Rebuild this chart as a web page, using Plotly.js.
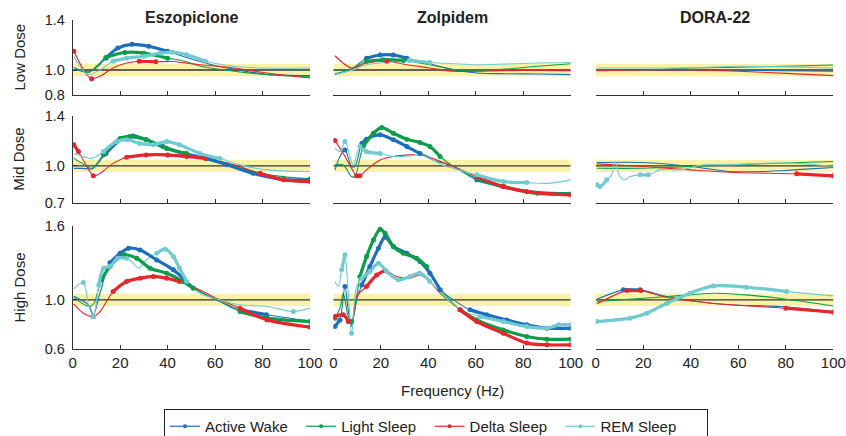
<!DOCTYPE html>
<html><head><meta charset="utf-8">
<script src="https://cdn.plot.ly/plotly-3.0.1.min.js"></script>
<style>html,body{margin:0;padding:0;background:#fff}#chart{width:846px;height:436px}</style>
</head><body><div id="chart"></div>
<script>
const drugs = ['Eszopiclone', 'Zolpidem', 'DORA-22'];
const doses = ['Low Dose', 'Mid Dose', 'High Dose'];
const states = ['Active Wake', 'Light Sleep', 'Delta Sleep', 'REM Sleep'];
const xTicks = [0, 20, 40, 60, 80, 100];
const yTicksLow = [0.8, 1.0, 1.4];
const yTicksMid = [0.7, 1.0, 1.4];
const yTicksHigh = [0.6, 1.0, 1.6];
const yRangeLow = [0.8, 1.4];
const yRangeMid = [0.7, 1.4];
const yRangeHigh = [0.6, 1.6];
const bandLow = 0.95, bandHigh = 1.05, baseline = 1.0;

// ---- Eszopiclone, Low dose: [frequency Hz, normalized power]
const esLowWake = [[0.5,1.02],[3,1.0],[6.5,0.985],[10,1.02],[14,1.095],[19,1.175],[25,1.205],[32,1.19],[40,1.15],[48,1.10],[59,1.04],[70,1.0],[82,0.965],[100,0.955]];
const esLowWakeSig = [[14,42]];
const esLowLight = [[0.5,1.0],[3,0.995],[6.5,0.978],[10,1.03],[14,1.10],[22,1.14],[30,1.135],[40,1.095],[47,1.07],[54,1.03],[68,0.99],[82,0.962],[100,0.945]];
const esLowLightSig = [[14,46]];
const esLowDelta = [[0.5,1.15],[3,1.055],[6,0.96],[8,0.93],[11.5,0.95],[17,1.016],[22.7,1.056],[28,1.07],[35,1.066],[42,1.068],[48,1.055],[54,1.042],[68,1.016],[82,0.976],[100,0.936]];
const esLowDeltaSig = [[0.5,0.5],[8,8],[27,36]];
const esLowRem = [[0.5,1.11],[3,1.03],[6.5,0.963],[11.5,1.0],[17,1.07],[22.7,1.095],[30,1.11],[37,1.135],[42,1.143],[48,1.122],[56,1.07],[68,1.03],[80,1.016],[100,1.016]];
const esLowRemSig = [[17,60]];

// ---- Eszopiclone, Mid dose
const esMidWake = [[0.5,0.98],[4,0.98],[8.5,0.98],[14,1.10],[21,1.22],[25.5,1.24],[31,1.21],[38,1.155],[46.5,1.10],[56.5,1.06],[65,1.01],[76,0.94],[89,0.89],[100,0.89]];
const esMidWakeSig = [[14,100]];
const esMidLight = [[0.5,1.06],[4,1.02],[8,0.98],[13,1.09],[20,1.22],[24,1.235],[31,1.21],[39.6,1.14],[48,1.10],[59,1.035],[68,0.995],[82,0.93],[100,0.895]];
const esMidLightSig = [[13,55],[85,100]];
const esMidDelta = [[0.5,1.17],[2.4,1.115],[6,0.995],[8.7,0.92],[11.5,0.94],[17,1.02],[22.7,1.07],[31,1.088],[40,1.088],[48,1.075],[56,1.06],[68,1.008],[79,0.94],[89,0.888],[100,0.875]];
const esMidDeltaSig = [[0.5,2.4],[8.7,8.7],[22,56],[79,100]];
const esMidRem = [[0.5,1.10],[4.5,1.075],[8,1.06],[13,1.115],[18.5,1.195],[22.7,1.21],[28.4,1.18],[34,1.17],[39.6,1.195],[45,1.17],[53.6,1.10],[62,1.06],[70.5,1.008],[82,0.968],[100,0.955]];
const esMidRemSig = [[13,62]];

// ---- Eszopiclone, High dose
const esHighWake = [[0.5,1.03],[6.6,0.96],[8.7,0.88],[11.5,1.054],[15.7,1.30],[20,1.377],[23.5,1.418],[28.4,1.404],[35.4,1.323],[42.4,1.243],[46.6,1.175],[53.6,1.067],[62,0.987],[70.5,0.92],[81.7,0.88],[100,0.83]];
const esHighWakeSig = [[15.7,46.6],[70.5,81.7]];
const esHighLight = [[0.5,1.02],[7,0.946],[9,0.973],[12,1.16],[15.7,1.27],[20,1.35],[22,1.364],[27,1.337],[32.6,1.256],[39.6,1.216],[46.6,1.148],[50.8,1.094],[60.7,1.0],[70.5,0.905],[82,0.852],[100,0.825]];
const esHighLightSig = [[12,50.8],[70.5,100]];
const esHighDelta = [[0.5,0.965],[4.5,0.892],[8.7,0.865],[11.5,0.905],[17,1.067],[22.7,1.148],[28.4,1.175],[34,1.19],[39.6,1.175],[45,1.148],[53.6,1.08],[62,1.0],[70.5,0.933],[82,0.838],[100,0.78]];
const esHighDeltaSig = [[8.7,8.7],[17,45],[70.5,100]];
const esHighRem = [[0.5,1.09],[4.5,1.14],[6.6,0.96],[8.7,0.865],[11,1.12],[13,1.256],[15.7,1.27],[19,1.337],[22.7,1.337],[25.6,1.296],[27.7,1.256],[31,1.323],[35.4,1.377],[39,1.41],[42.4,1.35],[45,1.256],[48,1.148],[53.6,1.054],[62,1.0],[70.5,0.96],[82,0.946],[93,0.906],[100,0.933]];
const esHighRemSig = [[4.5,4.5],[8.7,8.7],[11,22.7],[35.4,48],[93,93]];

// ---- Zolpidem, Low dose
const zoLowWake = [[0.7,0.97],[7.7,1.008],[14,1.095],[19.7,1.12],[25.3,1.12],[31,1.095],[39,1.056],[50.6,1.003],[60.4,0.976],[73,0.97],[86,0.968],[100,0.963]];
const zoLowWakeSig = [[14,31]];
const zoLowLight = [[0.7,1.003],[7.7,1.008],[14,1.07],[21,1.082],[29.5,1.077],[40.7,1.042],[50.6,1.003],[60.4,0.995],[73,1.008],[86,1.03],[100,1.05]];
const zoLowLightSig = [[14,29.5]];
const zoLowDelta = [[0.7,1.114],[7.7,1.016],[14,1.056],[22.5,1.07],[31,1.042],[40.7,1.016],[50.6,0.99],[60.4,0.99],[71.6,0.995],[85.7,0.997],[100,0.995]];
const zoLowDeltaSig = [[22.5,22.5]];
const zoLowRem = [[0.7,0.963],[7.7,0.997],[14,1.042],[22.5,1.06],[32,1.077],[40.7,1.06],[50.6,1.05],[60.4,1.042],[73,1.048],[86,1.056],[100,1.06]];
const zoLowRemSig = [[32,40.7]];

// ---- Zolpidem, Mid dose
const zoMidWake = [[0.7,0.968],[2.8,1.075],[4.9,1.128],[7.7,0.995],[9.1,0.995],[12,1.18],[14,1.214],[19.7,1.249],[25.3,1.209],[31,1.155],[36.5,1.10],[42,1.048],[50.6,0.995],[60.4,0.888],[71.6,0.834],[86,0.794],[100,0.786]];
const zoMidWakeSig = [[4.9,4.9],[12,36.5],[60.4,71.6]];
const zoMidLight = [[0.7,1.008],[4.2,1.008],[7.7,0.914],[9.1,0.914],[12.6,1.155],[16.9,1.262],[20.4,1.307],[25.3,1.262],[31,1.214],[36.5,1.187],[40.7,1.155],[45,1.075],[50.6,0.995],[60.4,0.90],[71.6,0.834],[86,0.78],[100,0.775]];
const zoMidLightSig = [[12.6,45],[60.4,100]];
const zoMidDelta = [[0.7,1.203],[4.2,1.10],[7.7,0.98],[9.8,0.92],[11.2,0.92],[14,0.968],[19.7,1.048],[25.3,1.075],[32.3,1.088],[37.9,1.088],[42,1.06],[50.6,0.995],[60.4,0.914],[71.6,0.834],[81.5,0.794],[100,0.767]];
const zoMidDeltaSig = [[0.7,0.7],[9.8,11.2],[60.4,100]];
const zoMidRem = [[0.7,1.142],[2.8,1.115],[4.9,1.195],[7,1.075],[8.4,1.003],[11.2,1.155],[14,1.115],[19.7,1.10],[25.3,1.075],[32,1.08],[37.9,1.096],[42,1.048],[46,1.008],[50.6,0.98],[60.4,0.928],[71.6,0.874],[81.5,0.866],[90,0.86],[100,0.888]];
const zoMidRemSig = [[4.9,4.9],[11.2,19.7],[60.4,81.5]];

// ---- Zolpidem, High dose
const zoHighWake = [[0.7,0.784],[2.8,0.838],[4.9,1.108],[6.3,0.919],[7.7,0.784],[9.8,1.0],[12,1.12],[15.4,1.27],[19,1.418],[21.8,1.507],[25.3,1.431],[31,1.377],[36.5,1.31],[40.7,1.216],[45,1.081],[50.6,1.0],[57.6,0.919],[64.6,0.879],[73,0.838],[81.5,0.798],[90,0.771],[100,0.771]];
const zoHighWakeSig = [[0.7,2.8],[4.9,4.9],[12,45],[57.6,100]];
const zoHighLight = [[0.7,0.852],[2.8,0.933],[4.2,1.054],[6.3,0.865],[7.7,0.825],[9.1,0.919],[11.2,1.189],[14,1.35],[16.9,1.485],[19.7,1.571],[21.8,1.539],[25.3,1.431],[29.5,1.377],[35.1,1.337],[39.3,1.27],[43.5,1.135],[47.8,1.027],[53.4,0.919],[60.4,0.838],[71.6,0.757],[81.5,0.704],[90,0.682],[100,0.682]];
const zoHighLightSig = [[0.7,0.7],[7.7,7.7],[11.2,39.3],[53.4,100]];
const zoHighDelta = [[0.7,0.865],[4.2,0.879],[6.3,0.825],[7.7,0.798],[9.8,1.027],[14,1.108],[18.3,1.202],[21.8,1.237],[26.7,1.189],[32.3,1.175],[36.5,1.202],[40.7,1.148],[45,1.054],[53.4,0.919],[60.4,0.825],[71.6,0.73],[81.5,0.65],[90,0.636],[100,0.636]];
const zoHighDeltaSig = [[0.7,6.3],[14,21.8],[53.4,100]];
const zoHighRem = [[0.7,1.148],[2.1,1.108],[3.5,1.243],[4.9,1.364],[6.3,1.054],[7.7,0.73],[9.8,1.108],[12,1.175],[15.4,1.229],[19,1.296],[22.5,1.229],[27.4,1.162],[32.3,1.189],[36.5,1.216],[40.7,1.148],[46.3,1.04],[53.4,0.919],[61.8,0.865],[71.6,0.825],[81.5,0.784],[90,0.771],[95,0.798],[100,0.798]];
const zoHighRemSig = [[3.5,4.9],[7.7,7.7],[12,40.7],[61.8,100]];

// ---- DORA-22, Low dose
const doLowWake = [[0.5,0.995],[20,1.0],[40,1.003],[60,0.998],[80,0.994],[100,0.99]];
const doLowLight = [[0.5,0.997],[20,1.0],[40,1.016],[60,1.022],[80,1.03],[100,1.04]];
const doLowDelta = [[0.5,0.997],[20,1.0],[40,1.0],[60,0.99],[80,0.973],[100,0.955]];
const doLowRem = [[0.5,1.016],[20,1.016],[40,1.018],[60,1.03],[80,1.025],[100,1.016]];

// ---- DORA-22, Mid dose
const doMidWake = [[0.5,1.027],[20,1.027],[40,0.995],[56.5,0.955],[70.5,0.955],[85,0.97],[100,0.987]];
const doMidLight = [[0.5,0.981],[20,0.981],[40,0.995],[56,1.008],[77,1.021],[100,1.035]];
const doMidDelta = [[0.5,1.016],[20,0.995],[40,0.968],[59,0.947],[84.6,0.936],[100,0.92]];
const doMidDeltaSig = [[84.6,100]];
const doMidRem = [[0.5,0.848],[1.8,0.834],[4.6,0.888],[6.7,0.928],[8.1,1.035],[10.2,0.914],[12.3,0.888],[14.4,0.914],[18.7,0.928],[22.2,0.928],[27,0.968],[35.5,0.968],[45.3,1.008],[56,1.008],[70,1.021],[84,1.021],[100,0.995]];
const doMidRemSig = [[0.5,4.6],[18.7,22.2]];

// ---- DORA-22, High dose
const doHighWake = [[0.5,1.005],[11.6,1.081],[18.7,1.081],[30,1.027],[42.5,0.987],[56.5,0.96],[77.6,0.946],[100,0.906]];
const doHighWakeSig = [[11.6,18.7]];
const doHighLight = [[0.5,0.987],[20,1.013],[34,1.032],[49.5,1.054],[63,1.04],[77,1.013],[100,0.951]];
const doHighDelta = [[0.5,0.968],[13,1.075],[19,1.075],[30,1.019],[42.5,0.987],[56.5,0.96],[80,0.933],[100,0.9]];
const doHighDeltaSig = [[13,19],[80,100]];
const doHighRem = [[0.5,0.825],[14.4,0.852],[21.5,0.892],[30,0.973],[39.7,1.054],[49.5,1.113],[63.5,1.102],[80.4,1.067],[100,1.032]];
const doHighRemSig = [[0.5,80.4]];

// ---- assemble panels [row][col] -> per state [points, significant ranges]
const panels = [
  [
    [[esLowWake,esLowWakeSig],[esLowLight,esLowLightSig],[esLowDelta,esLowDeltaSig],[esLowRem,esLowRemSig]],
    [[zoLowWake,zoLowWakeSig],[zoLowLight,zoLowLightSig],[zoLowDelta,zoLowDeltaSig],[zoLowRem,zoLowRemSig]],
    [[doLowWake,[]],[doLowLight,[]],[doLowDelta,[]],[doLowRem,[]]]
  ],
  [
    [[esMidWake,esMidWakeSig],[esMidLight,esMidLightSig],[esMidDelta,esMidDeltaSig],[esMidRem,esMidRemSig]],
    [[zoMidWake,zoMidWakeSig],[zoMidLight,zoMidLightSig],[zoMidDelta,zoMidDeltaSig],[zoMidRem,zoMidRemSig]],
    [[doMidWake,[]],[doMidLight,[]],[doMidDelta,doMidDeltaSig],[doMidRem,doMidRemSig]]
  ],
  [
    [[esHighWake,esHighWakeSig],[esHighLight,esHighLightSig],[esHighDelta,esHighDeltaSig],[esHighRem,esHighRemSig]],
    [[zoHighWake,zoHighWakeSig],[zoHighLight,zoHighLightSig],[zoHighDelta,zoHighDeltaSig],[zoHighRem,zoHighRemSig]],
    [[doHighWake,doHighWakeSig],[doHighLight,[]],[doHighDelta,doHighDeltaSig],[doHighRem,doHighRemSig]]
  ]
];
const yTicksByDose = [yTicksLow, yTicksMid, yTicksHigh];
const yRangeByDose = [yRangeLow, yRangeMid, yRangeHigh];

// ---- styling (not data)
const colors = ['#1b6fbd', '#0c9d4b', '#e8252b', '#6fcbcf'];
const FONT = '"Liberation Sans", Arial, Helvetica, sans-serif';
const W = 846, H = 436;
const colPx = [[72.7, 310], [333.3, 570.7], [595.7, 833.3]];
const rowPx = [[20, 95], [116, 203.3], [225.7, 349.3]];
const legendPad = '\u00a0\u00a0';
const legendEndPad = '\u00a0\u00a0\u00a0\u00a0\u00a0\u00a0';

const traces = [];
const layout = {
  width: W, height: H, margin: {l: 0, r: 0, t: 0, b: 0, autoexpand: false},
  paper_bgcolor: '#fff', plot_bgcolor: 'rgba(0,0,0,0)',
  font: {family: FONT, size: 15, color: '#222'},
  showlegend: true,
  legend: {
    orientation: 'h', x: 164 / W, xanchor: 'left', y: 1 - 409 / H, yanchor: 'top',
    bordercolor: '#222', borderwidth: 1, bgcolor: '#fff',
    font: {family: FONT, size: 15, color: '#222'},
    itemwidth: 30, tracegroupgap: 0
  },
  shapes: [], annotations: []
};

for (let r = 0; r < 3; r++) {
  for (let c = 0; c < 3; c++) {
    const idx = r * 3 + c + 1;
    const xs = idx === 1 ? 'x' : 'x' + idx;
    const ys = idx === 1 ? 'y' : 'y' + idx;
    const xk = idx === 1 ? 'xaxis' : 'xaxis' + idx;
    const yk = idx === 1 ? 'yaxis' : 'yaxis' + idx;
    layout[xk] = {
      domain: [colPx[c][0] / W, colPx[c][1] / W], anchor: ys, range: [0, 100],
      showline: true, linecolor: '#333', linewidth: 1, ticks: 'inside', ticklen: 4,
      tickcolor: '#333', tickvals: xTicks, showticklabels: r === 2, ticklabelstandoff: 0,
      showgrid: false, zeroline: false, fixedrange: true,
      tickfont: {family: FONT, size: 15, color: '#222'}
    };
    layout[yk] = {
      domain: [1 - rowPx[r][1] / H, 1 - rowPx[r][0] / H], anchor: xs,
      range: yRangeByDose[r], showline: c === 0, linecolor: '#333', linewidth: 1,
      ticks: c === 0 ? 'inside' : '', ticklen: 4, tickcolor: '#333',
      tickvals: yTicksByDose[r], tickformat: '.1f', showticklabels: c === 0, ticklabelstandoff: 4,
      showgrid: false, zeroline: false, fixedrange: true,
      tickfont: {family: FONT, size: 14.5, color: '#222'}
    };
    layout.shapes.push({type: 'rect', xref: xs, yref: ys, x0: 0, x1: 100, y0: bandLow, y1: bandHigh,
      fillcolor: '#faf2a6', line: {width: 0}, layer: 'below'});
    layout.shapes.push({type: 'line', xref: xs, yref: ys, x0: 0, x1: 100, y0: baseline, y1: baseline,
      line: {color: '#333', width: 1.3}, layer: 'below'});

    const series = panels[r][c];
    series.forEach((s, k) => {
      const pts = s[0];
      traces.push({
        type: 'scatter', mode: 'lines', xaxis: xs, yaxis: ys,
        x: pts.map(p => p[0]), y: pts.map(p => p[1]),
        line: {color: colors[k], width: 1.1, shape: 'spline', smoothing: 0.9},
        showlegend: false, hoverinfo: 'skip'
      });
    });
    series.forEach((s, k) => {
      const pts = s[0], sig = s[1];
      const x = [], y = [];
      sig.forEach((rg, j) => {
        if (j > 0) { x.push(null); y.push(null); }
        pts.forEach(p => { if (p[0] >= rg[0] && p[0] <= rg[1]) { x.push(p[0]); y.push(p[1]); } });
      });
      if (x.length) traces.push({
        type: 'scatter', mode: 'lines+markers', xaxis: xs, yaxis: ys, x: x, y: y,
        line: {color: colors[k], width: 3.2, shape: 'spline', smoothing: 0.9},
        marker: {color: colors[k], size: 5}, connectgaps: false,
        showlegend: false, hoverinfo: 'skip'
      });
    });
  }
}

states.forEach((name, k) => {
  traces.push({
    type: 'scatter', mode: 'lines+markers', x: [null], y: [null],
    name: name + (k === states.length - 1 ? legendEndPad : legendPad),
    line: {color: colors[k], width: 1.2}, marker: {color: colors[k], size: 4},
    showlegend: true
  });
});

drugs.forEach((d, c) => {
  layout.annotations.push({text: '<b>' + d + '</b>', xref: 'paper', yref: 'paper',
    x: (colPx[c][0] + colPx[c][1]) / 2 / W, y: 1 - 17 / H, xanchor: 'center', yanchor: 'middle',
    showarrow: false, font: {family: FONT, size: 16, color: '#222'}});
});
doses.forEach((d, r) => {
  layout.annotations.push({text: d, xref: 'paper', yref: 'paper', textangle: -90,
    x: 19 / W, y: 1 - (rowPx[r][0] + rowPx[r][1]) / 2 / H, xanchor: 'center', yanchor: 'middle',
    showarrow: false, font: {family: FONT, size: 15, color: '#222'}});
});
layout.annotations.push({text: 'Frequency (Hz)', xref: 'paper', yref: 'paper',
  x: 452 / W, y: 1 - 390 / H, xanchor: 'center', yanchor: 'middle', showarrow: false,
  font: {family: FONT, size: 15, color: '#222'}});

Plotly.newPlot('chart', traces, layout, {staticPlot: true, displayModeBar: false});
</script></body></html>
